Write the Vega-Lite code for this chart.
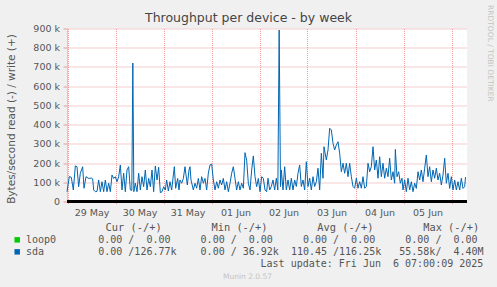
{
  "$schema": "https://vega.github.io/schema/vega-lite/v6.json",
  "autosize": {"type": "none"},
  "padding": {"left": 67, "top": 28.5, "right": 30, "bottom": 85.5},
  "width": 400,
  "height": 173,
  "background": "#f0f0f0",
  "config": {"view": {"fill": "#ffffff", "stroke": null}},
  "title": {"text": "Throughput per device - by week", "font": "DejaVu Sans", "fontSize": 12.5, "fontWeight": "normal", "color": "#444444", "anchor": "middle", "frame": "group", "dx": -18.5, "dy": 23},
  "data": {"values": [
      {"s": "loop0", "t": "2025-05-28T23:45", "v": 0},
      {"s": "loop0", "t": "2025-06-06T07:45", "v": 0},
      {"s": "sda", "t": "2025-05-28T23:45", "v": 51000},
      {"s": "sda", "t": "2025-05-29T00:55", "v": 130000},
      {"s": "sda", "t": "2025-05-29T01:55", "v": 125000},
      {"s": "sda", "t": "2025-05-29T02:55", "v": 60000},
      {"s": "sda", "t": "2025-05-29T03:55", "v": 185000},
      {"s": "sda", "t": "2025-05-29T04:45", "v": 181000},
      {"s": "sda", "t": "2025-05-29T05:35", "v": 77000},
      {"s": "sda", "t": "2025-05-29T06:25", "v": 147000},
      {"s": "sda", "t": "2025-05-29T07:35", "v": 181000},
      {"s": "sda", "t": "2025-05-29T08:15", "v": 69000},
      {"s": "sda", "t": "2025-05-29T09:15", "v": 129000},
      {"s": "sda", "t": "2025-05-29T10:35", "v": 120000},
      {"s": "sda", "t": "2025-05-29T11:55", "v": 122000},
      {"s": "sda", "t": "2025-05-29T12:35", "v": 118000},
      {"s": "sda", "t": "2025-05-29T13:05", "v": 60000},
      {"s": "sda", "t": "2025-05-29T13:55", "v": 51000},
      {"s": "sda", "t": "2025-05-29T14:45", "v": 52000},
      {"s": "sda", "t": "2025-05-29T15:35", "v": 112000},
      {"s": "sda", "t": "2025-05-29T16:25", "v": 51000},
      {"s": "sda", "t": "2025-05-29T17:15", "v": 103000},
      {"s": "sda", "t": "2025-05-29T18:05", "v": 51000},
      {"s": "sda", "t": "2025-05-29T18:55", "v": 112000},
      {"s": "sda", "t": "2025-05-29T19:45", "v": 51000},
      {"s": "sda", "t": "2025-05-29T20:35", "v": 95000},
      {"s": "sda", "t": "2025-05-29T21:25", "v": 51000},
      {"s": "sda", "t": "2025-05-29T22:15", "v": 138000},
      {"s": "sda", "t": "2025-05-29T23:05", "v": 120000},
      {"s": "sda", "t": "2025-05-29T23:55", "v": 129000},
      {"s": "sda", "t": "2025-05-30T00:45", "v": 103000},
      {"s": "sda", "t": "2025-05-30T01:35", "v": 129000},
      {"s": "sda", "t": "2025-05-30T02:25", "v": 190000},
      {"s": "sda", "t": "2025-05-30T03:15", "v": 60000},
      {"s": "sda", "t": "2025-05-30T04:05", "v": 147000},
      {"s": "sda", "t": "2025-05-30T04:55", "v": 51000},
      {"s": "sda", "t": "2025-05-30T05:45", "v": 164000},
      {"s": "sda", "t": "2025-05-30T06:35", "v": 181000},
      {"s": "sda", "t": "2025-05-30T07:25", "v": 60000},
      {"s": "sda", "t": "2025-05-30T08:10", "v": 58000},
      {"s": "sda", "t": "2025-05-30T08:40", "v": 720000},
      {"s": "sda", "t": "2025-05-30T09:10", "v": 51000},
      {"s": "sda", "t": "2025-05-30T09:55", "v": 95000},
      {"s": "sda", "t": "2025-05-30T10:45", "v": 51000},
      {"s": "sda", "t": "2025-05-30T11:35", "v": 147000},
      {"s": "sda", "t": "2025-05-30T12:25", "v": 60000},
      {"s": "sda", "t": "2025-05-30T13:15", "v": 129000},
      {"s": "sda", "t": "2025-05-30T14:05", "v": 77000},
      {"s": "sda", "t": "2025-05-30T14:55", "v": 164000},
      {"s": "sda", "t": "2025-05-30T15:45", "v": 60000},
      {"s": "sda", "t": "2025-05-30T16:35", "v": 120000},
      {"s": "sda", "t": "2025-05-30T17:25", "v": 77000},
      {"s": "sda", "t": "2025-05-30T18:15", "v": 164000},
      {"s": "sda", "t": "2025-05-30T19:05", "v": 51000},
      {"s": "sda", "t": "2025-05-30T19:55", "v": 185000},
      {"s": "sda", "t": "2025-05-30T20:45", "v": 112000},
      {"s": "sda", "t": "2025-05-30T21:35", "v": 178000},
      {"s": "sda", "t": "2025-05-30T22:25", "v": 46000},
      {"s": "sda", "t": "2025-05-30T23:15", "v": 51000},
      {"s": "sda", "t": "2025-05-31T00:05", "v": 77000},
      {"s": "sda", "t": "2025-05-31T00:55", "v": 60000},
      {"s": "sda", "t": "2025-05-31T01:35", "v": 112000},
      {"s": "sda", "t": "2025-05-31T02:25", "v": 55000},
      {"s": "sda", "t": "2025-05-31T03:15", "v": 103000},
      {"s": "sda", "t": "2025-05-31T04:05", "v": 60000},
      {"s": "sda", "t": "2025-05-31T05:25", "v": 181000},
      {"s": "sda", "t": "2025-05-31T06:05", "v": 69000},
      {"s": "sda", "t": "2025-05-31T07:05", "v": 120000},
      {"s": "sda", "t": "2025-05-31T07:45", "v": 60000},
      {"s": "sda", "t": "2025-05-31T08:15", "v": 112000},
      {"s": "sda", "t": "2025-05-31T09:05", "v": 95000},
      {"s": "sda", "t": "2025-05-31T09:55", "v": 120000},
      {"s": "sda", "t": "2025-05-31T10:45", "v": 181000},
      {"s": "sda", "t": "2025-05-31T11:15", "v": 138000},
      {"s": "sda", "t": "2025-05-31T11:55", "v": 86000},
      {"s": "sda", "t": "2025-05-31T12:45", "v": 164000},
      {"s": "sda", "t": "2025-05-31T13:15", "v": 181000},
      {"s": "sda", "t": "2025-05-31T13:45", "v": 112000},
      {"s": "sda", "t": "2025-05-31T14:55", "v": 60000},
      {"s": "sda", "t": "2025-05-31T15:45", "v": 95000},
      {"s": "sda", "t": "2025-05-31T16:35", "v": 69000},
      {"s": "sda", "t": "2025-05-31T17:25", "v": 120000},
      {"s": "sda", "t": "2025-05-31T18:15", "v": 60000},
      {"s": "sda", "t": "2025-05-31T19:05", "v": 129000},
      {"s": "sda", "t": "2025-05-31T19:55", "v": 95000},
      {"s": "sda", "t": "2025-05-31T20:45", "v": 120000},
      {"s": "sda", "t": "2025-05-31T21:35", "v": 60000},
      {"s": "sda", "t": "2025-05-31T22:25", "v": 147000},
      {"s": "sda", "t": "2025-05-31T23:15", "v": 190000},
      {"s": "sda", "t": "2025-06-01T00:05", "v": 195000},
      {"s": "sda", "t": "2025-06-01T00:55", "v": 112000},
      {"s": "sda", "t": "2025-06-01T01:45", "v": 60000},
      {"s": "sda", "t": "2025-06-01T02:35", "v": 103000},
      {"s": "sda", "t": "2025-06-01T03:25", "v": 69000},
      {"s": "sda", "t": "2025-06-01T04:15", "v": 112000},
      {"s": "sda", "t": "2025-06-01T05:05", "v": 86000},
      {"s": "sda", "t": "2025-06-01T05:55", "v": 120000},
      {"s": "sda", "t": "2025-06-01T06:45", "v": 60000},
      {"s": "sda", "t": "2025-06-01T07:35", "v": 103000},
      {"s": "sda", "t": "2025-06-01T08:25", "v": 51000},
      {"s": "sda", "t": "2025-06-01T09:15", "v": 95000},
      {"s": "sda", "t": "2025-06-01T10:05", "v": 147000},
      {"s": "sda", "t": "2025-06-01T10:55", "v": 181000},
      {"s": "sda", "t": "2025-06-01T11:45", "v": 120000},
      {"s": "sda", "t": "2025-06-01T12:35", "v": 60000},
      {"s": "sda", "t": "2025-06-01T13:25", "v": 103000},
      {"s": "sda", "t": "2025-06-01T14:15", "v": 60000},
      {"s": "sda", "t": "2025-06-01T15:05", "v": 95000},
      {"s": "sda", "t": "2025-06-01T15:55", "v": 69000},
      {"s": "sda", "t": "2025-06-01T16:45", "v": 254000},
      {"s": "sda", "t": "2025-06-01T17:35", "v": 215000},
      {"s": "sda", "t": "2025-06-01T18:25", "v": 95000},
      {"s": "sda", "t": "2025-06-01T19:15", "v": 60000},
      {"s": "sda", "t": "2025-06-01T20:05", "v": 164000},
      {"s": "sda", "t": "2025-06-01T20:55", "v": 237000},
      {"s": "sda", "t": "2025-06-01T21:45", "v": 129000},
      {"s": "sda", "t": "2025-06-01T22:35", "v": 77000},
      {"s": "sda", "t": "2025-06-01T23:25", "v": 120000},
      {"s": "sda", "t": "2025-06-02T00:15", "v": 51000},
      {"s": "sda", "t": "2025-06-02T01:05", "v": 129000},
      {"s": "sda", "t": "2025-06-02T01:55", "v": 120000},
      {"s": "sda", "t": "2025-06-02T02:45", "v": 60000},
      {"s": "sda", "t": "2025-06-02T03:35", "v": 51000},
      {"s": "sda", "t": "2025-06-02T04:15", "v": 121000},
      {"s": "sda", "t": "2025-06-02T05:05", "v": 60000},
      {"s": "sda", "t": "2025-06-02T05:55", "v": 78000},
      {"s": "sda", "t": "2025-06-02T06:45", "v": 112000},
      {"s": "sda", "t": "2025-06-02T07:35", "v": 60000},
      {"s": "sda", "t": "2025-06-02T08:25", "v": 121000},
      {"s": "sda", "t": "2025-06-02T09:10", "v": 60000},
      {"s": "sda", "t": "2025-06-02T09:50", "v": 892000},
      {"s": "sda", "t": "2025-06-02T10:30", "v": 78000},
      {"s": "sda", "t": "2025-06-02T10:55", "v": 164000},
      {"s": "sda", "t": "2025-06-02T11:45", "v": 60000},
      {"s": "sda", "t": "2025-06-02T12:35", "v": 181000},
      {"s": "sda", "t": "2025-06-02T13:25", "v": 60000},
      {"s": "sda", "t": "2025-06-02T14:15", "v": 112000},
      {"s": "sda", "t": "2025-06-02T15:05", "v": 60000},
      {"s": "sda", "t": "2025-06-02T15:55", "v": 121000},
      {"s": "sda", "t": "2025-06-02T16:45", "v": 60000},
      {"s": "sda", "t": "2025-06-02T17:35", "v": 112000},
      {"s": "sda", "t": "2025-06-02T18:25", "v": 78000},
      {"s": "sda", "t": "2025-06-02T19:15", "v": 147000},
      {"s": "sda", "t": "2025-06-02T20:05", "v": 190000},
      {"s": "sda", "t": "2025-06-02T20:55", "v": 78000},
      {"s": "sda", "t": "2025-06-02T21:45", "v": 112000},
      {"s": "sda", "t": "2025-06-02T22:35", "v": 60000},
      {"s": "sda", "t": "2025-06-02T23:25", "v": 207000},
      {"s": "sda", "t": "2025-06-03T00:15", "v": 78000},
      {"s": "sda", "t": "2025-06-03T01:05", "v": 121000},
      {"s": "sda", "t": "2025-06-03T01:55", "v": 60000},
      {"s": "sda", "t": "2025-06-03T02:45", "v": 129000},
      {"s": "sda", "t": "2025-06-03T03:35", "v": 78000},
      {"s": "sda", "t": "2025-06-03T04:25", "v": 103000},
      {"s": "sda", "t": "2025-06-03T05:15", "v": 173000},
      {"s": "sda", "t": "2025-06-03T06:05", "v": 60000},
      {"s": "sda", "t": "2025-06-03T06:55", "v": 251000},
      {"s": "sda", "t": "2025-06-03T07:45", "v": 121000},
      {"s": "sda", "t": "2025-06-03T08:15", "v": 285000},
      {"s": "sda", "t": "2025-06-03T09:25", "v": 216000},
      {"s": "sda", "t": "2025-06-03T10:15", "v": 268000},
      {"s": "sda", "t": "2025-06-03T11:05", "v": 381000},
      {"s": "sda", "t": "2025-06-03T11:55", "v": 372000},
      {"s": "sda", "t": "2025-06-03T12:45", "v": 303000},
      {"s": "sda", "t": "2025-06-03T13:35", "v": 268000},
      {"s": "sda", "t": "2025-06-03T14:25", "v": 294000},
      {"s": "sda", "t": "2025-06-03T15:15", "v": 311000},
      {"s": "sda", "t": "2025-06-03T16:05", "v": 251000},
      {"s": "sda", "t": "2025-06-03T16:55", "v": 155000},
      {"s": "sda", "t": "2025-06-03T17:45", "v": 199000},
      {"s": "sda", "t": "2025-06-03T18:35", "v": 147000},
      {"s": "sda", "t": "2025-06-03T19:25", "v": 199000},
      {"s": "sda", "t": "2025-06-03T20:15", "v": 129000},
      {"s": "sda", "t": "2025-06-03T21:05", "v": 199000},
      {"s": "sda", "t": "2025-06-03T21:55", "v": 129000},
      {"s": "sda", "t": "2025-06-03T22:45", "v": 78000},
      {"s": "sda", "t": "2025-06-03T23:35", "v": 69000},
      {"s": "sda", "t": "2025-06-04T00:25", "v": 121000},
      {"s": "sda", "t": "2025-06-04T01:15", "v": 69000},
      {"s": "sda", "t": "2025-06-04T02:05", "v": 103000},
      {"s": "sda", "t": "2025-06-04T02:55", "v": 69000},
      {"s": "sda", "t": "2025-06-04T03:45", "v": 129000},
      {"s": "sda", "t": "2025-06-04T04:35", "v": 69000},
      {"s": "sda", "t": "2025-06-04T05:25", "v": 78000},
      {"s": "sda", "t": "2025-06-04T06:15", "v": 199000},
      {"s": "sda", "t": "2025-06-04T07:05", "v": 155000},
      {"s": "sda", "t": "2025-06-04T07:55", "v": 181000},
      {"s": "sda", "t": "2025-06-04T08:45", "v": 285000},
      {"s": "sda", "t": "2025-06-04T09:35", "v": 164000},
      {"s": "sda", "t": "2025-06-04T10:25", "v": 216000},
      {"s": "sda", "t": "2025-06-04T11:15", "v": 121000},
      {"s": "sda", "t": "2025-06-04T12:05", "v": 233000},
      {"s": "sda", "t": "2025-06-04T12:55", "v": 129000},
      {"s": "sda", "t": "2025-06-04T13:45", "v": 199000},
      {"s": "sda", "t": "2025-06-04T14:35", "v": 121000},
      {"s": "sda", "t": "2025-06-04T15:25", "v": 173000},
      {"s": "sda", "t": "2025-06-04T16:15", "v": 129000},
      {"s": "sda", "t": "2025-06-04T17:05", "v": 225000},
      {"s": "sda", "t": "2025-06-04T17:55", "v": 112000},
      {"s": "sda", "t": "2025-06-04T18:45", "v": 155000},
      {"s": "sda", "t": "2025-06-04T19:35", "v": 95000},
      {"s": "sda", "t": "2025-06-04T19:55", "v": 271000},
      {"s": "sda", "t": "2025-06-04T20:45", "v": 129000},
      {"s": "sda", "t": "2025-06-04T21:35", "v": 155000},
      {"s": "sda", "t": "2025-06-04T22:25", "v": 95000},
      {"s": "sda", "t": "2025-06-04T23:15", "v": 121000},
      {"s": "sda", "t": "2025-06-04T23:45", "v": 60000},
      {"s": "sda", "t": "2025-06-05T00:35", "v": 112000},
      {"s": "sda", "t": "2025-06-05T01:25", "v": 51000},
      {"s": "sda", "t": "2025-06-05T02:15", "v": 121000},
      {"s": "sda", "t": "2025-06-05T03:05", "v": 60000},
      {"s": "sda", "t": "2025-06-05T03:55", "v": 103000},
      {"s": "sda", "t": "2025-06-05T04:45", "v": 51000},
      {"s": "sda", "t": "2025-06-05T05:35", "v": 95000},
      {"s": "sda", "t": "2025-06-05T06:25", "v": 68000},
      {"s": "sda", "t": "2025-06-05T07:15", "v": 155000},
      {"s": "sda", "t": "2025-06-05T08:05", "v": 112000},
      {"s": "sda", "t": "2025-06-05T08:55", "v": 164000},
      {"s": "sda", "t": "2025-06-05T09:45", "v": 103000},
      {"s": "sda", "t": "2025-06-05T10:35", "v": 173000},
      {"s": "sda", "t": "2025-06-05T11:25", "v": 242000},
      {"s": "sda", "t": "2025-06-05T12:15", "v": 129000},
      {"s": "sda", "t": "2025-06-05T13:05", "v": 181000},
      {"s": "sda", "t": "2025-06-05T13:55", "v": 103000},
      {"s": "sda", "t": "2025-06-05T14:45", "v": 164000},
      {"s": "sda", "t": "2025-06-05T15:35", "v": 121000},
      {"s": "sda", "t": "2025-06-05T16:25", "v": 173000},
      {"s": "sda", "t": "2025-06-05T17:15", "v": 112000},
      {"s": "sda", "t": "2025-06-05T18:05", "v": 147000},
      {"s": "sda", "t": "2025-06-05T18:55", "v": 86000},
      {"s": "sda", "t": "2025-06-05T19:45", "v": 138000},
      {"s": "sda", "t": "2025-06-05T20:35", "v": 225000},
      {"s": "sda", "t": "2025-06-05T21:25", "v": 95000},
      {"s": "sda", "t": "2025-06-05T22:15", "v": 147000},
      {"s": "sda", "t": "2025-06-05T23:05", "v": 68000},
      {"s": "sda", "t": "2025-06-05T23:55", "v": 129000},
      {"s": "sda", "t": "2025-06-06T00:45", "v": 60000},
      {"s": "sda", "t": "2025-06-06T01:35", "v": 112000},
      {"s": "sda", "t": "2025-06-06T02:25", "v": 60000},
      {"s": "sda", "t": "2025-06-06T03:15", "v": 103000},
      {"s": "sda", "t": "2025-06-06T04:05", "v": 60000},
      {"s": "sda", "t": "2025-06-06T04:55", "v": 121000},
      {"s": "sda", "t": "2025-06-06T05:45", "v": 68000},
      {"s": "sda", "t": "2025-06-06T06:35", "v": 77000},
      {"s": "sda", "t": "2025-06-06T07:00", "v": 127000}
  ]},
  "layer": [
    {
      "mark": {"type": "line", "strokeWidth": 1},
      "encoding": {
        "x": {
          "field": "t", "type": "temporal",
          "scale": {"nice": false},
          "axis": {
            "values": [
              {"year": 2025, "month": 5, "date": 29}, {"year": 2025, "month": 5, "date": 30}, {"year": 2025, "month": 5, "date": 31},
              {"year": 2025, "month": 6, "date": 1}, {"year": 2025, "month": 6, "date": 2}, {"year": 2025, "month": 6, "date": 3},
              {"year": 2025, "month": 6, "date": 4}, {"year": 2025, "month": 6, "date": 5}, {"year": 2025, "month": 6, "date": 6}
            ],
            "grid": true, "gridColor": "#e89a9a", "gridDash": [1, 1], "domain": false, "ticks": true, "tickColor": "#e89a9a", "tickSize": 2,
            "labelOffset": 24, "labelPadding": 4, "labelFont": "DejaVu Sans", "labelFontSize": 9.5, "labelColor": "#555555", "labelFlush": false, "labelOverlap": false,
            "labelExpr": "timeFormat(datum.value, '%d') == '06' ? '' : timeFormat(datum.value, '%d %b')",
            "title": "Last update: Fri Jun\u00a0\u00a06 07:00:09 2025", "titleFont": "DejaVu Sans Mono", "titleFontSize": 10, "titleFontWeight": "normal", "titleColor": "#555555", "titleX": 415.8, "titleY": 65, "titleAlign": "right", "titleBaseline": "alphabetic"
          }
        },
        "y": {
          "field": "v", "type": "quantitative",
          "scale": {"domain": [0, 900000], "nice": false},
          "axis": {
            "values": [0, 100000, 200000, 300000, 400000, 500000, 600000, 700000, 800000, 900000], "grid": true, "gridColor": "#e89a9a", "gridDash": [1, 1],
            "domain": true, "domainColor": "#c8c8e8", "ticks": true, "tickColor": "#e89a9a", "tickSize": 4, "labelPadding": 3.5,
            "labelFont": "DejaVu Sans", "labelFontSize": 9.5, "labelColor": "#555555", "labelOverlap": false,
            "labelExpr": "datum.value == 0 ? '0\u00a0\u00a0' : format(datum.value / 1000, 'd') + ' k'",
            "title": "Bytes/second read (-) / write (+)", "titleFont": "DejaVu Sans", "titleFontSize": 10.5, "titleFontWeight": "normal", "titleColor": "#555555", "titleX": -56, "titleY": 90, "titleAngle": -90, "titleAlign": "center", "titleBaseline": "middle"
          }
        },
        "color": {
          "field": "s", "type": "nominal",
          "scale": {"domain": ["loop0", "sda"], "range": ["#00cc00", "#0066b3"]},
          "legend": {
            "orient": "none", "legendX": -54.8, "legendY": 194, "padding": 0,
            "title": "\u200b\u00a0\u00a0\u00a0\u00a0\u00a0\u00a0\u00a0\u00a0\u00a0\u00a0\u00a0\u00a0\u00a0\u00a0\u00a0Cur\u00a0(-/+)\u00a0\u00a0\u00a0\u00a0\u00a0\u00a0\u00a0\u00a0Min\u00a0(-/+)\u00a0\u00a0\u00a0\u00a0\u00a0\u00a0\u00a0\u00a0Avg\u00a0(-/+)\u00a0\u00a0\u00a0\u00a0\u00a0\u00a0\u00a0\u00a0Max\u00a0(-/+)",
            "titleFont": "DejaVu Sans Mono", "titleFontSize": 10.35, "titleFontWeight": "normal", "titleColor": "#555555", "titlePadding": 2, "titleLimit": 1000,
            "labelFont": "DejaVu Sans Mono", "labelFontSize": 10, "labelColor": "#555555", "labelLimit": 1000, "labelOffset": 3.8,
            "labelExpr": "datum.label == 'loop0' ? 'loop0\u00a0\u00a0\u00a0\u00a0\u00a0\u00a0\u00a00.00\u00a0/\u00a0\u00a00.00\u00a0\u00a0\u00a0\u00a0\u00a00.00\u00a0/\u00a0\u00a00.00\u00a0\u00a0\u00a0\u00a0\u00a00.00\u00a0/\u00a0\u00a00.00\u00a0\u00a0\u00a0\u00a0\u00a00.00\u00a0/\u00a0\u00a00.00' : 'sda\u00a0\u00a0\u00a0\u00a0\u00a0\u00a0\u00a0\u00a0\u00a00.00\u00a0/126.77k\u00a0\u00a0\u00a0\u00a00.00\u00a0/\u00a036.92k\u00a0\u00a0110.45\u00a0/116.25k\u00a0\u00a0\u00a055.58k/\u00a0\u00a04.40M'",
            "symbolType": "square", "symbolSize": 30, "symbolStrokeWidth": 0, "rowPadding": 2,
            "encode": {"symbols": {"update": {"fill": {"scale": "color", "field": "value"}, "fillOpacity": {"value": 1}}}}
          }
        }
      }
    },
    {
      "mark": {"type": "rule", "color": "#000000", "strokeWidth": 1.5},
      "encoding": {
        "y": {
          "datum": 0, "type": "quantitative",
          "axis": {
            "values": [0, 100000, 200000, 300000, 400000, 500000, 600000, 700000, 800000, 900000], "grid": true, "gridColor": "#e89a9a", "gridDash": [1, 1],
            "domain": true, "domainColor": "#c8c8e8", "ticks": true, "tickColor": "#e89a9a", "tickSize": 4, "labelPadding": 3.5,
            "labelFont": "DejaVu Sans", "labelFontSize": 9.5, "labelColor": "#555555", "labelOverlap": false,
            "labelExpr": "datum.value == 0 ? '0\u00a0\u00a0' : format(datum.value / 1000, 'd') + ' k'",
            "title": "Bytes/second read (-) / write (+)", "titleFont": "DejaVu Sans", "titleFontSize": 10.5, "titleFontWeight": "normal", "titleColor": "#555555", "titleX": -56, "titleY": 90, "titleAngle": -90, "titleAlign": "center", "titleBaseline": "middle"
          }
        }
      }
    },
    {
      "data": {"values": [{"label": "Munin 2.0.57"}]},
      "mark": {"type": "text", "font": "DejaVu Sans", "fontSize": 7.5, "color": "#c4c4c4", "align": "center", "baseline": "alphabetic", "dx": -19.5},
      "encoding": {
        "text": {"field": "label", "type": "nominal"},
        "y": {
          "datum": -403000, "type": "quantitative",
          "axis": {
            "values": [0, 100000, 200000, 300000, 400000, 500000, 600000, 700000, 800000, 900000], "grid": true, "gridColor": "#e89a9a", "gridDash": [1, 1],
            "domain": true, "domainColor": "#c8c8e8", "ticks": true, "tickColor": "#e89a9a", "tickSize": 4, "labelPadding": 3.5,
            "labelFont": "DejaVu Sans", "labelFontSize": 9.5, "labelColor": "#555555", "labelOverlap": false,
            "labelExpr": "datum.value == 0 ? '0\u00a0\u00a0' : format(datum.value / 1000, 'd') + ' k'",
            "title": "Bytes/second read (-) / write (+)", "titleFont": "DejaVu Sans", "titleFontSize": 10.5, "titleFontWeight": "normal", "titleColor": "#555555", "titleX": -56, "titleY": 90, "titleAngle": -90, "titleAlign": "center", "titleBaseline": "middle"
          }
        }
      }
    },
    {
      "data": {"values": [{"label": "RRDTOOL / TOBI OETIKER"}]},
      "mark": {"type": "text", "font": "DejaVu Sans", "fontSize": 7.5, "color": "#c4c4c4", "align": "left", "baseline": "middle", "angle": 90, "dy": -223},
      "encoding": {
        "text": {"field": "label", "type": "nominal"},
        "y": {
          "datum": 1022000, "type": "quantitative",
          "axis": {
            "values": [0, 100000, 200000, 300000, 400000, 500000, 600000, 700000, 800000, 900000], "grid": true, "gridColor": "#e89a9a", "gridDash": [1, 1],
            "domain": true, "domainColor": "#c8c8e8", "ticks": true, "tickColor": "#e89a9a", "tickSize": 4, "labelPadding": 3.5,
            "labelFont": "DejaVu Sans", "labelFontSize": 9.5, "labelColor": "#555555", "labelOverlap": false,
            "labelExpr": "datum.value == 0 ? '0\u00a0\u00a0' : format(datum.value / 1000, 'd') + ' k'",
            "title": "Bytes/second read (-) / write (+)", "titleFont": "DejaVu Sans", "titleFontSize": 10.5, "titleFontWeight": "normal", "titleColor": "#555555", "titleX": -56, "titleY": 90, "titleAngle": -90, "titleAlign": "center", "titleBaseline": "middle"
          }
        }
      }
    }
  ]
}
